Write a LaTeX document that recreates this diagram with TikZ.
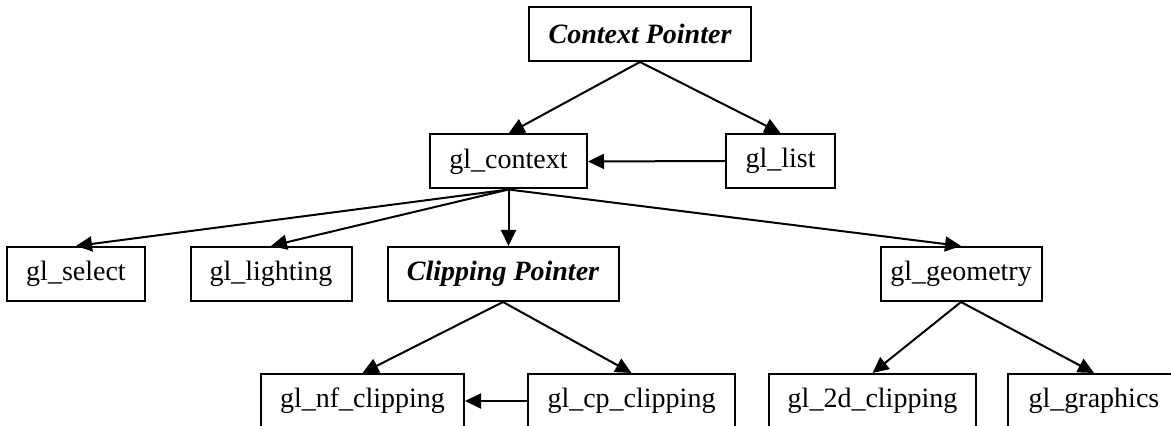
\documentclass[tikz,border=0pt]{standalone}
\usepackage{fontspec}
\setmainfont{Liberation Serif}
\usetikzlibrary{arrows.meta}
\tikzset{
	box/.style={draw, line width=1pt, inner sep=0pt, minimum height=27pt, font=\fontsize{14pt}{16pt}\selectfont},
	ptrbox/.style={box, font=\fontsize{14pt}{16pt}\selectfont\bfseries\itshape},
	link/.style={-{Triangle[length=8pt,width=7.5pt]}, line width=1pt}
}
\begin{document}
\begin{tikzpicture}[x=0.5pt,y=-0.5pt]
	\useasboundingbox (0,0) rectangle (1171,426);
	\clip (0,0) rectangle (1171,426);

	\node[ptrbox, minimum width=111pt] (ctxptr) at (640,34) {Context Pointer};

	\node[box, minimum width=78.5pt] (glcontext) at (508.5,161.5) {gl\_context};
	\node[box, minimum width=54.5pt] (gllist) at (780.5,161) {gl\_list};

	\node[box, minimum width=69pt] (glselect) at (76,274) {gl\_select};
	\node[box, minimum width=80.5pt] (gllighting) at (271,274) {gl\_lighting};
	\node[ptrbox, minimum width=115.5pt] (clipptr) at (503,274) {Clipping Pointer};
	\node[box, minimum width=80.5pt] (glgeometry) at (961,274) {gl\_geometry};

	\node[box, minimum width=101.5pt] (glnf) at (362.5,401) {gl\_nf\_clipping};
	\node[box, minimum width=103.5pt] (glcp) at (631.5,401) {gl\_cp\_clipping};
	\node[box, minimum width=103.5pt] (gltwod) at (872.5,401) {gl\_2d\_clipping};
	\node[box, minimum width=86pt] (glgraphics) at (1094,401) {gl\_graphics};

	\draw[link] (ctxptr.south) -- (glcontext.north);
	\draw[link] (ctxptr.south) -- (gllist.north);
	\draw[link] (gllist.west) -- (glcontext.east);

	\draw[link] (glcontext.south) -- (glselect.north);
	\draw[link] (glcontext.south) -- (gllighting.north);
	\draw[link] (glcontext.south) -- (glcontext.south |- clipptr.north);
	\draw[link] (glcontext.south) -- (glgeometry.north);

	\draw[link] (clipptr.south) -- (glnf.north);
	\draw[link] (clipptr.south) -- (glcp.north);
	\draw[link] (glcp.west) -- (glnf.east);

	\draw[link] (glgeometry.south) -- (gltwod.north);
	\draw[link] (glgeometry.south) -- (glgraphics.north);
\end{tikzpicture}
\end{document}
